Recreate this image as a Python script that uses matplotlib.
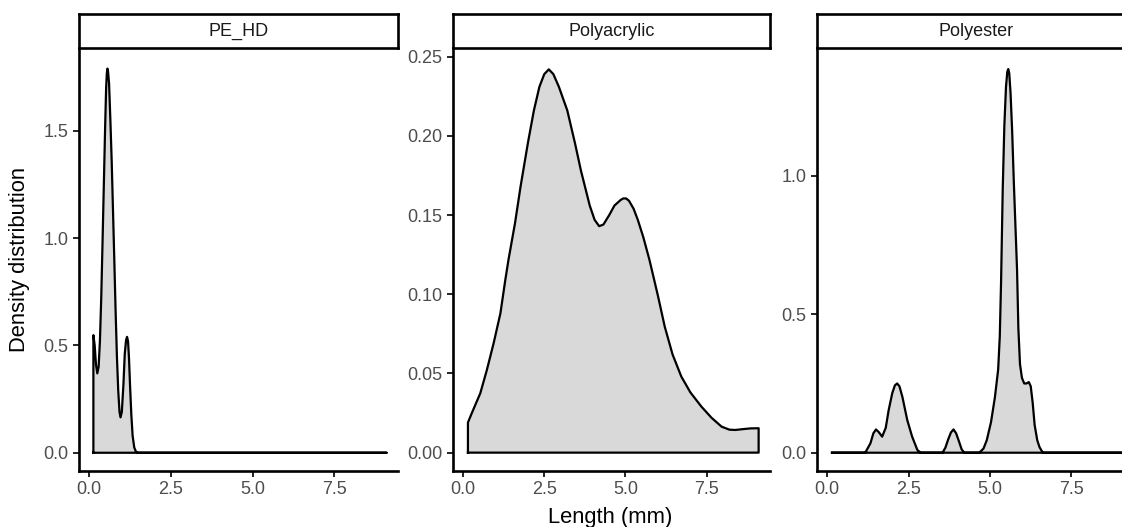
"""
Faceted length density plot (PE_HD / Polyacrylic / Polyester), ggplot-like look.
"""
import matplotlib

matplotlib.use("Agg")
import matplotlib.pyplot as plt

plt.rcParams["font.family"] = ["Liberation Sans", "DejaVu Sans"]

# ---------------------------------------------------------------------------
# Data (density curves)
# ---------------------------------------------------------------------------
panel_names = ["PE_HD", "Polyacrylic", "Polyester"]

pehd_x = [0.13, 0.17, 0.21, 0.25, 0.29, 0.33, 0.37, 0.41, 0.45, 0.49, 0.52,
          0.54, 0.56, 0.58, 0.61, 0.65, 0.69, 0.73, 0.77, 0.81, 0.85, 0.89,
          0.93, 0.96, 1.00, 1.05, 1.09, 1.13, 1.16, 1.19, 1.22, 1.25, 1.29,
          1.33, 1.38, 1.43, 1.50, 9.1]
pehd_y = [0.548, 0.50, 0.41, 0.37, 0.40, 0.52, 0.72, 0.98, 1.25, 1.52, 1.70,
          1.765, 1.79, 1.775, 1.72, 1.55, 1.36, 1.13, 0.90, 0.66, 0.45, 0.29,
          0.19, 0.165, 0.19, 0.32, 0.46, 0.525, 0.54, 0.52, 0.44, 0.32, 0.18,
          0.08, 0.025, 0.006, 0.0, 0.0]

acryl_x = [0.15, 0.27, 0.53, 0.73, 0.94, 1.15, 1.30, 1.40, 1.60, 1.77, 2.0,
           2.18, 2.35, 2.50, 2.64, 2.78, 2.95, 3.21, 3.45, 3.63, 3.90, 4.05,
           4.19, 4.32, 4.50, 4.66, 4.85, 4.93, 5.02, 5.11, 5.25, 5.38, 5.55,
           5.74, 6.0, 6.21, 6.45, 6.72, 7.0, 7.34, 7.65, 7.96, 8.2, 8.38,
           8.6, 8.85, 9.1]
acryl_y = [0.019, 0.025, 0.0375, 0.052, 0.069, 0.088, 0.109, 0.122, 0.145,
           0.168, 0.196, 0.216, 0.231, 0.239, 0.242, 0.239, 0.231, 0.216,
           0.195, 0.178, 0.156, 0.147, 0.143, 0.144, 0.150, 0.156, 0.1595,
           0.1605, 0.1605, 0.159, 0.154, 0.147, 0.136, 0.1216, 0.099, 0.0795,
           0.062, 0.048, 0.038, 0.029, 0.022, 0.0164, 0.0145, 0.0143, 0.0148,
           0.0153, 0.0154]

poly_x = [0.15, 1.17, 1.33, 1.42, 1.50, 1.58, 1.69, 1.80, 1.89, 2.0, 2.08,
          2.15, 2.22, 2.31, 2.46, 2.61, 2.77, 2.87, 3.54, 3.63, 3.71, 3.80,
          3.88, 3.96, 4.05, 4.13, 4.21, 4.67, 4.80, 4.90, 5.03, 5.15, 5.25,
          5.30, 5.34, 5.39, 5.44, 5.49, 5.53, 5.56, 5.59, 5.63, 5.68, 5.73,
          5.78, 5.83, 5.87, 5.92, 5.98, 6.05, 6.12, 6.19, 6.25, 6.31, 6.37,
          6.45, 6.52, 6.62, 9.1]
poly_y = [0, 0, 0.034, 0.07, 0.084, 0.075, 0.058, 0.09, 0.154, 0.215, 0.243,
          0.25, 0.24, 0.202, 0.118, 0.058, 0.01, 0, 0, 0.018, 0.046, 0.073,
          0.084, 0.07, 0.04, 0.012, 0, 0, 0.015, 0.045, 0.11, 0.20, 0.30,
          0.42, 0.62, 0.95, 1.18, 1.32, 1.375, 1.385, 1.37, 1.30, 1.16, 0.98,
          0.82, 0.66, 0.45, 0.32, 0.27, 0.25, 0.25, 0.255, 0.24, 0.18, 0.10,
          0.045, 0.02, 0, 0]

x_ticks = [0.0, 2.5, 5.0, 7.5]
y_ticks = [
    [0.0, 0.5, 1.0, 1.5],
    [0.00, 0.05, 0.10, 0.15, 0.20, 0.25],
    [0.0, 0.5, 1.0],
]
y_fmt = ["{:.1f}", "{:.2f}", "{:.1f}"]
y_limits = [(-0.085, 1.886), (-0.0116, 0.2555), (-0.066, 1.461)]
x_limits = (-0.31, 9.45)

# ---------------------------------------------------------------------------
# Layout (pixels of a 1122x527 canvas)
# ---------------------------------------------------------------------------
W, H = 1122, 527
panel_lr = [(79, 398), (453, 770), (817, 1135)]
plot_top, plot_bottom = 48, 471
strip_top = 14

FILL = "#D9D9D9"
TICK_COL = "#4D4D4D"


def frac_box(left, right, top, bottom):
    return [left / W, 1 - bottom / H, (right - left) / W, (bottom - top) / H]


fig = plt.figure(figsize=(W / 100, H / 100), dpi=100)

curves = [(pehd_x, pehd_y), (acryl_x, acryl_y), (poly_x, poly_y)]

for i, name in enumerate(panel_names):
    left, right = panel_lr[i]
    ax = fig.add_axes(frac_box(left, right, plot_top, plot_bottom))
    xs, ys = curves[i]

    # closed polygon like geom_density: vertical ends + baseline
    px = [xs[0]] + xs + [xs[-1], xs[0]]
    py = [0.0] + ys + [0.0, 0.0]
    ax.fill(px, py, facecolor=FILL, edgecolor="none", zorder=2)
    ax.plot(px, py, color="black", lw=1.6, solid_joinstyle="round", zorder=3)

    ax.set_xlim(*x_limits)
    ax.set_ylim(*y_limits[i])
    ax.set_xticks(x_ticks)
    ax.set_xticklabels([f"{v:.1f}" for v in x_ticks])
    ax.set_yticks(y_ticks[i])
    ax.set_yticklabels([y_fmt[i].format(v) for v in y_ticks[i]])

    for side in ("top", "right"):
        ax.spines[side].set_visible(False)
    for side in ("left", "bottom"):
        ax.spines[side].set_linewidth(1.9)
        ax.spines[side].set_color("black")
    ax.tick_params(axis="both", length=4, width=1.2, color="black",
                   labelcolor=TICK_COL, labelsize=13, pad=3.5)
    ax.patch.set_visible(False)

    # facet strip
    sax = fig.add_axes(frac_box(left, right, strip_top, plot_top))
    sax.set_xticks([])
    sax.set_yticks([])
    sax.set_facecolor("white")
    for sp in sax.spines.values():
        sp.set_linewidth(1.9)
        sp.set_color("black")
    sax.text(0.5, 0.5, name, ha="center", va="center", fontsize=13,
             color="#1A1A1A", transform=sax.transAxes)

fig.text(20 / W, 1 - 259.5 / H, "Density distribution", rotation=90,
         ha="center", va="center", fontsize=15.8, color="black")
fig.text(610 / W, 1 - 517 / H, "Length (mm)", ha="center", va="center",
         fontsize=15.8, color="black")

fig.savefig("out.png", dpi=100, facecolor="white")
plt.close(fig)
